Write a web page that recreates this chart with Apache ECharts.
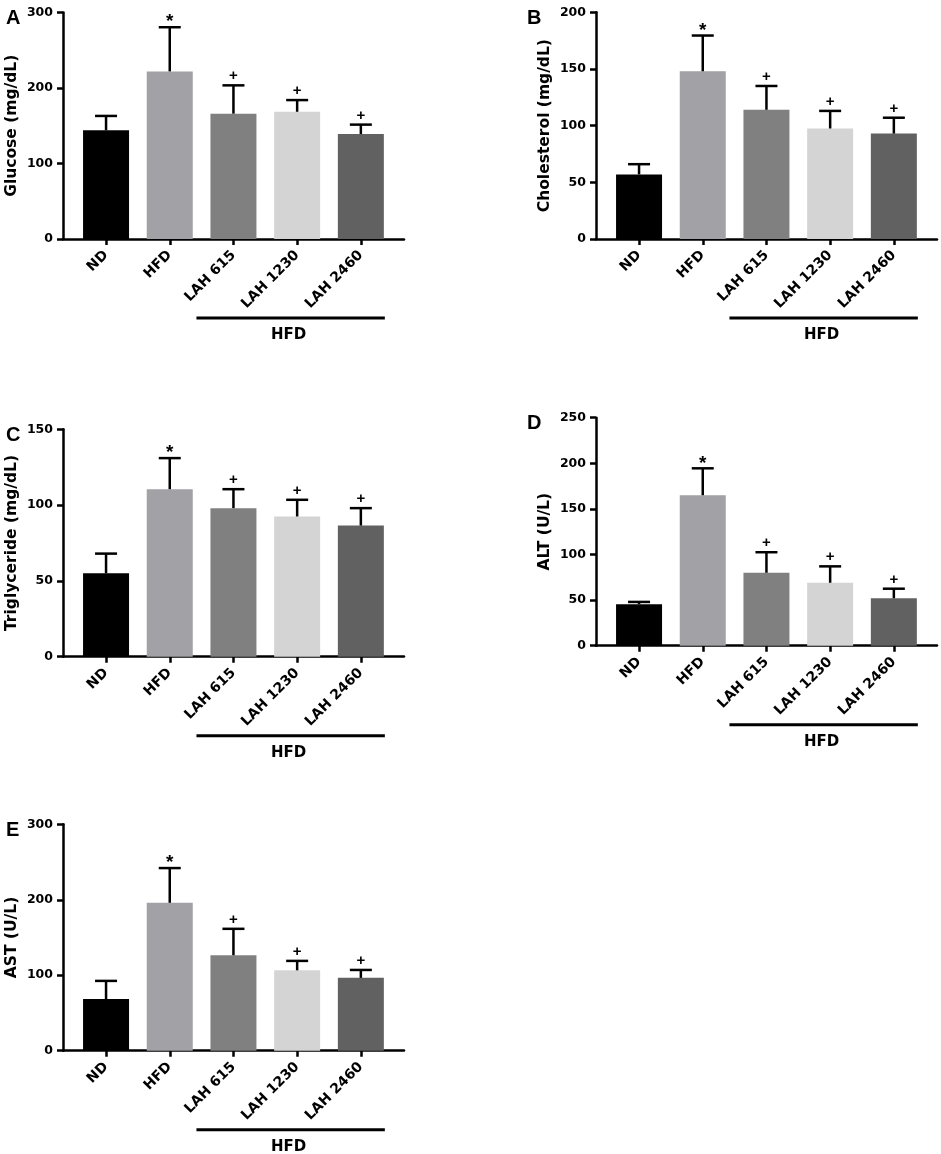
<!DOCTYPE html>
<html>
<head>
<meta charset="utf-8">
<script src="https://cdn.jsdelivr.net/npm/echarts@6/dist/echarts.min.js"></script>
<style>
  html, body { margin: 0; padding: 0; background: #fff; }
  #main { width: 941px; height: 1154px; }
</style>
</head>
<body>
<div id="main"></div>
<script>
// groups and significance marks
const categories = ['ND', 'HFD', 'LAH 615', 'LAH 1230', 'LAH 2460'];
const marks = ['', '*', '+', '+', '+'];
const hfdGroup = [2, 4]; // first and last index under the HFD bracket

// mean and upper error (SD) per panel
const glucoseMean = [144, 222, 166, 168.5, 139];
const glucoseSd = [19, 58.5, 37.5, 15.5, 12.5];
const cholesterolMean = [57, 148, 114, 97.5, 93];
const cholesterolSd = [9, 31.5, 21, 15.5, 14];
const triglycerideMean = [55, 110.5, 98, 92.5, 86.5];
const triglycerideSd = [13, 20.5, 12.5, 11, 11.5];
const altMean = [45.5, 165, 80, 69, 52];
const altSd = [2.5, 29.5, 22.5, 18, 10.5];
const astMean = [68.5, 196, 126.5, 106.5, 96.5];
const astSd = [24, 46, 35, 12.5, 10.5];

const barColors = ['#000000', '#a1a1a6', '#808080', '#d4d4d4', '#616161'];
const FONT = 'DejaVu Sans';

const panels = [
  { letter: 'A', name: 'Glucose (mg/dL)', mean: glucoseMean, sd: glucoseSd, max: 300, step: 100,
    left: 63, top: 12.5, height: 226.5 },
  { letter: 'B', name: 'Cholesterol (mg/dL)', mean: cholesterolMean, sd: cholesterolSd, max: 200, step: 50,
    left: 596, top: 12.3, height: 226.7 },
  { letter: 'C', name: 'Triglyceride (mg/dL)', mean: triglycerideMean, sd: triglycerideSd, max: 150, step: 50,
    left: 63, top: 429.3, height: 227.4 },
  { letter: 'D', name: 'ALT (U/L)', mean: altMean, sd: altSd, max: 250, step: 50,
    left: 596, top: 417.7, height: 228 },
  { letter: 'E', name: 'AST (U/L)', mean: astMean, sd: astSd, max: 300, step: 100,
    left: 63, top: 824.3, height: 226.4 }
];

const chart = echarts.init(document.getElementById('main'));

const black = { color: '#000', width: 2.5 };

function errorBar(params, api) {
  const i = api.value(0);
  const base = api.coord([i, api.value(1)]);
  const top = api.coord([i, api.value(1) + api.value(2)]);
  const kids = [
    { type: 'line', shape: { x1: base[0], y1: base[1], x2: top[0], y2: top[1] },
      style: { stroke: '#000', lineWidth: 2.5 } },
    { type: 'line', shape: { x1: top[0] - 11, y1: top[1], x2: top[0] + 11, y2: top[1] },
      style: { stroke: '#000', lineWidth: 2.5 } }
  ];
  const m = marks[i];
  if (m) {
    const star = m === '*';
    kids.push({
      type: 'text', x: top[0], y: top[1] - (star ? 5 : 9),
      style: { text: m, fill: '#000', align: 'center', verticalAlign: 'middle',
               font: 'bold ' + (star ? 19 : 15) + 'px "Liberation Sans", Arial' }
    });
  }
  return { type: 'group', children: kids };
}

function bracket(params, api) {
  const a = api.coord([api.value(0), 0]);
  const b = api.coord([api.value(2), 0]);
  const x1 = a[0] - 37, x2 = b[0] + 24;
  return {
    type: 'group',
    children: [
      { type: 'line', shape: { x1: x1, y1: a[1] + 79, x2: x2, y2: a[1] + 79 },
        style: { stroke: '#000', lineWidth: 3 } },
      { type: 'text', x: (x1 + x2) / 2 - 2, y: a[1] + 96,
        style: { text: 'HFD', fill: '#000', align: 'center', verticalAlign: 'middle',
                 font: 'bold 15px "' + FONT + '"' } }
    ]
  };
}

const option = {
  animation: false,
  backgroundColor: '#fff',
  title: [], grid: [], xAxis: [], yAxis: [], series: []
};

panels.forEach((p, k) => {
  const outer = k * 2, inner = k * 2 + 1;
  option.title.push({
    text: p.letter, left: p.left > 300 ? 522 : 1, top: p.top - 9,
    textStyle: { fontFamily: 'Liberation Sans', fontWeight: 'bold', fontSize: 20, color: '#000' }
  });

  option.grid.push({ left: p.left, top: p.top, width: 341, height: p.height, outerBoundsMode: 'none' });
  option.grid.push({ left: p.left + 11.2, top: p.top, width: 318.5, height: p.height, outerBoundsMode: 'none' });

  // outer: visible y axis and full-length x axis line
  option.xAxis.push({
    gridIndex: outer, type: 'value', min: 0, max: 1,
    axisLine: { show: true, onZero: false, lineStyle: black },
    axisTick: { show: false }, axisLabel: { show: false }, splitLine: { show: false }
  });
  option.yAxis.push({
    gridIndex: outer, type: 'value', min: 0, max: p.max, interval: p.step,
    name: p.name, nameLocation: 'middle', nameGap: 43,
    nameTextStyle: { fontFamily: FONT, fontWeight: 'bold', fontSize: 15.5, color: '#000' },
    axisLine: { show: true, lineStyle: black },
    axisTick: { show: true, length: 6, lineStyle: black },
    axisLabel: { margin: 10, fontFamily: FONT, fontWeight: 'bold', fontSize: 12.5, color: '#000' },
    splitLine: { show: false }
  });

  // inner: categories, bars and error bars
  option.xAxis.push({
    gridIndex: inner, type: 'category', data: categories,
    axisLine: { show: false },
    axisTick: { show: true, alignWithLabel: true, length: 6, lineStyle: black },
    axisLabel: { rotate: 45, margin: 14, interval: 0, fontFamily: FONT, fontWeight: 'bold',
                 fontSize: 14, color: '#000' },
    splitLine: { show: false }
  });
  option.yAxis.push({
    gridIndex: inner, type: 'value', min: 0, max: p.max, show: false, splitLine: { show: false }
  });

  option.series.push({
    type: 'bar', xAxisIndex: inner, yAxisIndex: inner, barWidth: 46,
    data: p.mean.map((v, i) => ({ value: v, itemStyle: { color: barColors[i] } }))
  });
  option.series.push({
    type: 'custom', xAxisIndex: inner, yAxisIndex: inner, clip: false, z: 3,
    renderItem: errorBar,
    data: p.mean.map((v, i) => [i, v, p.sd[i]])
  });
  option.series.push({
    type: 'custom', xAxisIndex: inner, yAxisIndex: inner, clip: false, z: 3,
    renderItem: bracket,
    data: [[hfdGroup[0], 0, hfdGroup[1]]]
  });
});

chart.setOption(option);
</script>
</body>
</html>
